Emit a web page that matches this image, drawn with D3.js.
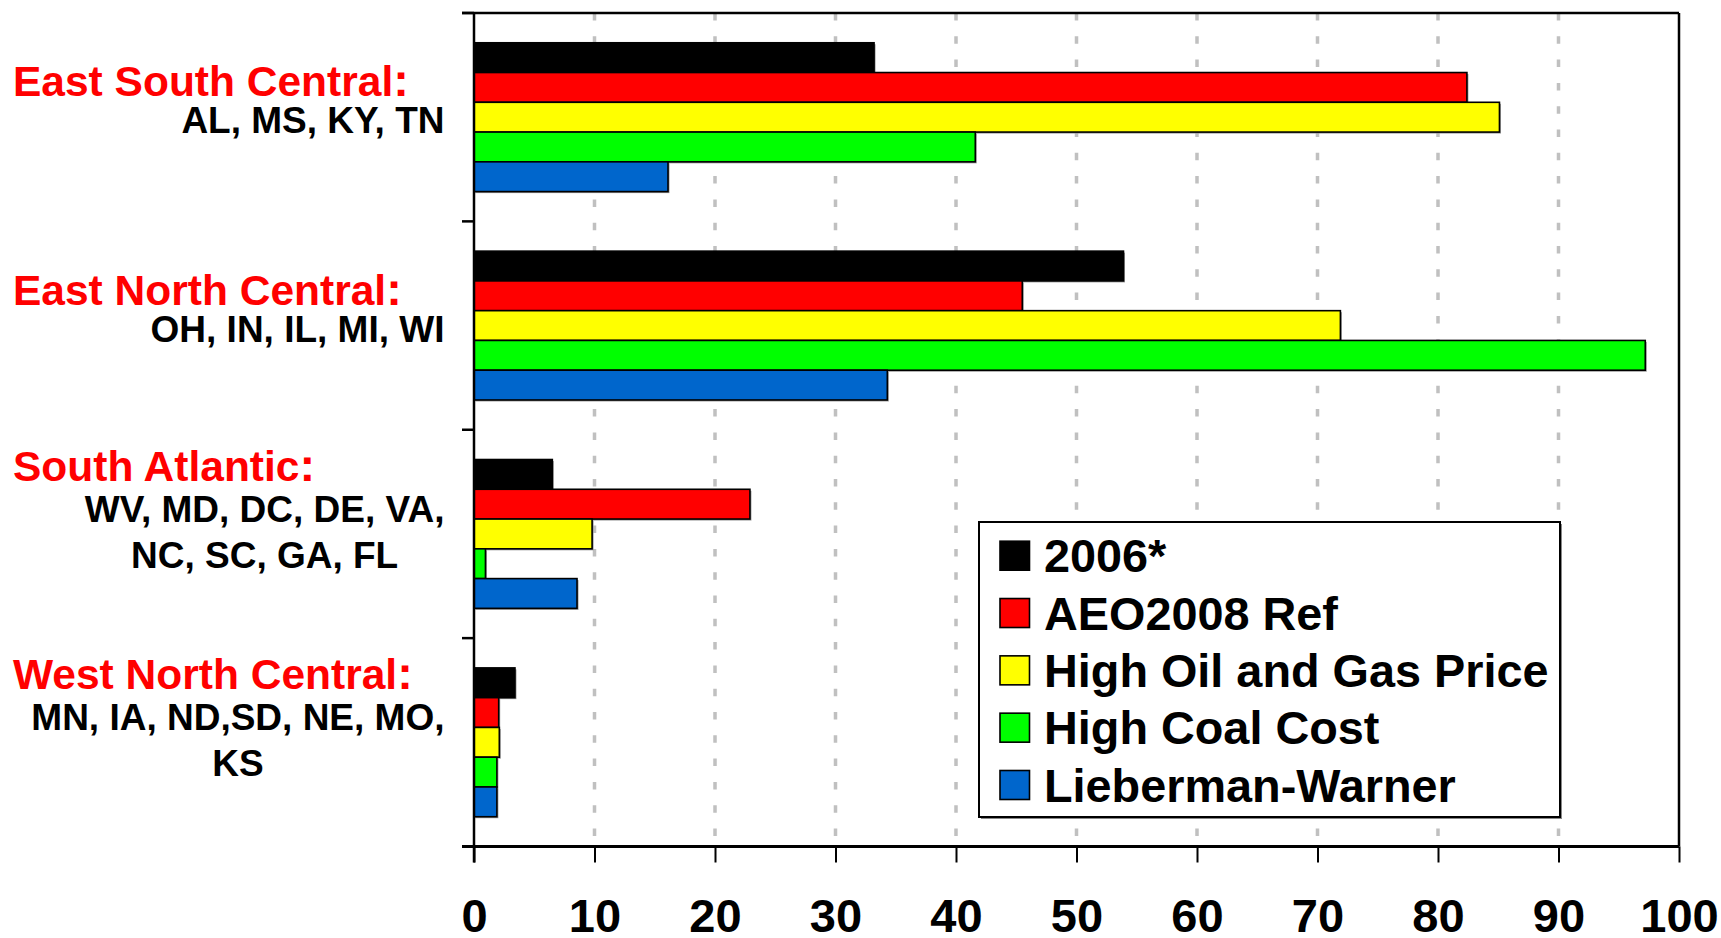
<!DOCTYPE html>
<html>
<head>
<meta charset="utf-8">
<script src="https://cdn.jsdelivr.net/npm/d3@7"></script>
<style>
  html, body { margin: 0; padding: 0; background: #fff; }
  svg { display: block; font-family: "Liberation Sans", Arial, sans-serif; font-weight: bold; }
</style>
</head>
<body>
<svg id="chart" width="1721" height="938"></svg>
<script>
// ---- data ----
const categories = ["East South Central", "East North Central", "South Atlantic", "West North Central"];
const stateLines = [
  ["AL, MS, KY, TN"],
  ["OH, IN, IL, MI, WI"],
  ["WV, MD, DC, DE, VA,", "NC, SC, GA, FL"],
  ["MN, IA, ND,SD, NE, MO,", "KS"]
];
const seriesNames = ["2006*", "AEO2008 Ref", "High Oil and Gas Price", "High Coal Cost", "Lieberman-Warner"];
const seriesColors = ["#000000", "#ff0000", "#ffff00", "#00ff00", "#0066cc"];
const values2006     = [33.2, 53.9, 6.5, 3.4];
const valuesAEO2008  = [82.4, 45.5, 22.9, 2.05];
const valuesHighOil  = [85.1, 71.9, 9.8, 2.1];
const valuesHighCoal = [41.6, 97.2, 0.95, 1.9];
const valuesLW       = [16.1, 34.3, 8.55, 1.9];
const xTickValues = [0, 10, 20, 30, 40, 50, 60, 70, 80, 90, 100];

const seriesValues = [values2006, valuesAEO2008, valuesHighOil, valuesHighCoal, valuesLW];

(function () {
// ---- layout ----
const pLeft = 474, pRight = 1679, pTop = 13, pBottom = 846.5;
const svg = d3.select("#chart");

const x = d3.scaleLinear().domain([0, 100]).range([pLeft, pRight]);
const y = d3.scaleBand().domain(categories).range([pTop, pBottom]).paddingInner(0).paddingOuter(0);
const ySub = d3.scaleBand().domain(seriesNames).range([0, y.bandwidth()]).paddingInner(0).paddingOuter(1);

// gridlines
svg.append("g").selectAll("line")
  .data(xTickValues.filter(d => d > 0 && d < 100))
  .join("line")
  .attr("x1", d => x(d)).attr("x2", d => x(d))
  .attr("y1", pTop).attr("y2", pBottom)
  .attr("stroke", "#c0c0c0").attr("stroke-width", 3.5)
  .attr("stroke-dasharray", "7.5,15.8");

// bars
const barData = [];
categories.forEach((c, ci) => {
  seriesNames.forEach((s, si) => {
    barData.push({ cat: c, series: s, value: seriesValues[si][ci], color: seriesColors[si] });
  });
});
const barsG = svg.append("g");
barsG.selectAll("rect.shadow").data(barData).join("rect")
  .attr("class", "shadow")
  .attr("x", x(0) + 1.5)
  .attr("y", d => y(d.cat) + ySub(d.series) + 1.5)
  .attr("width", d => x(d.value) - x(0))
  .attr("height", ySub.bandwidth())
  .attr("fill", "#9a9a9a");
barsG.selectAll("rect.bar").data(barData).join("rect")
  .attr("class", "bar")
  .attr("x", x(0))
  .attr("y", d => y(d.cat) + ySub(d.series))
  .attr("width", d => x(d.value) - x(0))
  .attr("height", ySub.bandwidth())
  .attr("fill", d => d.color)
  .attr("stroke", "#000").attr("stroke-width", 1.6);

// frame: top and right
svg.append("line").attr("x1", 462).attr("x2", pRight).attr("y1", pTop).attr("y2", pTop)
  .attr("stroke", "#000").attr("stroke-width", 2.5);
svg.append("line").attr("x1", pRight).attr("x2", pRight).attr("y1", pTop).attr("y2", pBottom)
  .attr("stroke", "#000").attr("stroke-width", 2.5);

// x axis
const xAxis = d3.axisBottom(x).tickValues(xTickValues).tickSize(16).tickSizeOuter(0).tickFormat(d3.format("d"));
const gx = svg.append("g").attr("transform", `translate(0,${pBottom})`).call(xAxis);
gx.select(".domain").remove();
gx.selectAll(".tick line").attr("stroke", "#000").attr("stroke-width", 2);
gx.selectAll(".tick text")
  .attr("y", 85).attr("dy", 0)
  .attr("fill", "#000")
  .attr("font-size", 47)
  .attr("font-weight", "bold")
  .attr("font-family", "'Liberation Sans', Arial, sans-serif");
svg.append("line").attr("x1", 462).attr("x2", pRight).attr("y1", pBottom).attr("y2", pBottom)
  .attr("stroke", "#000").attr("stroke-width", 3);

// y axis line and boundary ticks
svg.append("line").attr("x1", pLeft).attr("x2", pLeft).attr("y1", pTop).attr("y2", pBottom + 16)
  .attr("stroke", "#000").attr("stroke-width", 2.5);
const boundaries = categories.map(c => y(c)).concat([y.range()[1]]);
svg.append("g").selectAll("line").data(boundaries).join("line")
  .attr("x1", 462).attr("x2", pLeft)
  .attr("y1", d => d).attr("y2", d => d)
  .attr("stroke", "#000").attr("stroke-width", 2.5);

// category labels
const labG = svg.append("g");
const stateSize = 37;
categories.forEach((c, ci) => {
  const cy = y(c) + y.bandwidth() / 2;
  const lines = stateLines[ci];
  const n = lines.length;
  const redBase = cy - 21 - (n - 1) * 32;
  const t = labG.append("text")
    .attr("x", 13).attr("y", redBase)
    .attr("fill", "#ff0000").attr("font-size", 42.5).attr("font-weight", "bold");
  t.append("tspan").text(c);
  t.append("tspan").attr("font-size", 47).text(":");
  const widths = lines.map(l => {
    const tt = labG.append("text").attr("font-size", stateSize).attr("font-weight", "bold").text(l);
    const w = tt.node().getComputedTextLength();
    tt.remove();
    return w;
  });
  const maxW = d3.max(widths);
  const cx = 444.5 - maxW / 2;
  lines.forEach((l, li) => {
    labG.append("text")
      .attr("x", cx)
      .attr("y", redBase + 37 + (n - 1) * 4 + li * 46)
      .attr("text-anchor", "middle")
      .attr("fill", "#000").attr("font-size", stateSize).attr("font-weight", "bold")
      .text(l);
  });
});

// legend
const lg = svg.append("g");
lg.append("rect").attr("x", 981).attr("y", 524).attr("width", 581).attr("height", 295).attr("fill", "#888");
lg.append("rect").attr("x", 979).attr("y", 522).attr("width", 581).attr("height", 295)
  .attr("fill", "#fff").attr("stroke", "#000").attr("stroke-width", 2);
const legendY = d3.scalePoint().domain(seriesNames).range([555.7, 785]);
seriesNames.forEach((s, si) => {
  const cy = legendY(s);
  lg.append("rect").attr("x", 1000).attr("y", cy - 14.5).attr("width", 29.5).attr("height", 29)
    .attr("fill", seriesColors[si]).attr("stroke", "#000").attr("stroke-width", 1.6);
  lg.append("text").attr("x", 1044).attr("y", cy + 16.5)
    .attr("font-size", 46.8).attr("font-weight", "bold").attr("fill", "#000")
    .text(s);
});
})();
</script>
</body>
</html>
